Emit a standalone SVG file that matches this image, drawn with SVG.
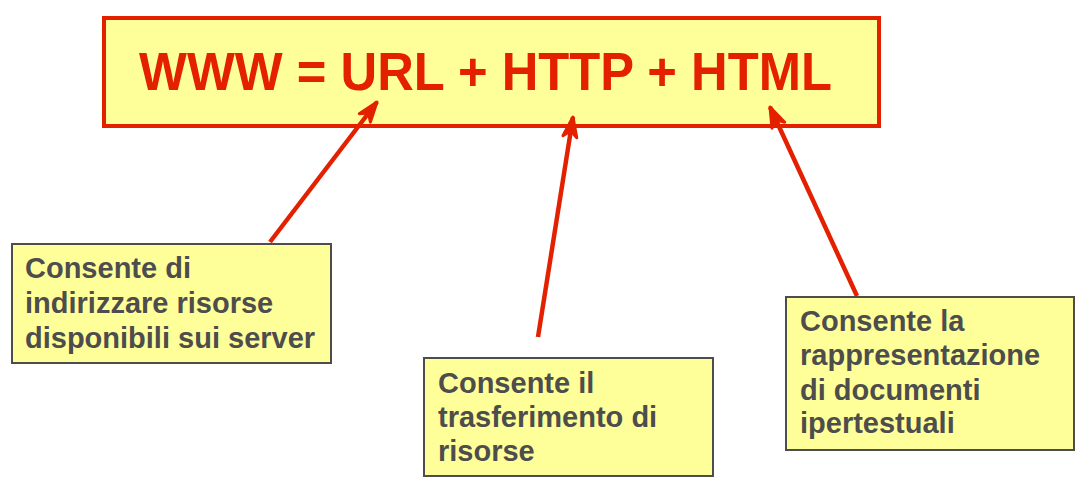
<svg xmlns="http://www.w3.org/2000/svg" width="1084" height="491" viewBox="0 0 1084 491">
<style>
.note rect{fill:#ffff99;stroke:#4d4d4d;stroke-width:2}
.note text{font-family:"Liberation Sans",Arial,sans-serif;font-weight:bold;font-size:29px;fill:#4d4d4d}
.conn line{stroke:#e32000;stroke-width:4.5;stroke-linecap:butt}
</style>
<defs>
<marker id="ah" markerUnits="userSpaceOnUse" viewBox="0 0 24 18" refX="22" refY="9" markerWidth="24" markerHeight="18" orient="auto">
<path d="M2,2 L22,9 L2,16 L8,9 Z" fill="#e32000" stroke="#e32000" stroke-width="3" stroke-linejoin="round"/>
</marker>
</defs>
<rect width="1084" height="491" fill="#ffffff"/>
<g id="main">
<rect x="104" y="18" width="775" height="108" fill="#ffff99" stroke="#e32000" stroke-width="4"/>
<text x="139" y="90" font-family="'Liberation Sans',Arial,sans-serif" font-weight="bold" font-size="53" fill="#e32000" textLength="693" lengthAdjust="spacingAndGlyphs">WWW = URL + HTTP + HTML</text>
</g>
<g id="connectors" class="conn">
<line x1="270" y1="242" x2="377" y2="102" marker-end="url(#ah)"/>
<line x1="538" y1="337" x2="573" y2="117" marker-end="url(#ah)"/>
<line x1="857" y1="296" x2="770" y2="107" marker-end="url(#ah)"/>
</g>
<g id="note-url" class="note">
<rect x="12" y="244" width="319" height="119"/>
<text x="25" y="278">Consente di</text>
<text x="25" y="313">indirizzare risorse</text>
<text x="25" y="348">disponibili sui server</text>
</g>
<g id="note-http" class="note">
<rect x="424" y="358" width="289" height="118"/>
<text x="438" y="393">Consente il</text>
<text x="438" y="427">trasferimento di</text>
<text x="438" y="461">risorse</text>
</g>
<g id="note-html" class="note">
<rect x="786" y="297" width="288" height="153"/>
<text x="800" y="331">Consente la</text>
<text x="800" y="365">rappresentazione</text>
<text x="800" y="400">di documenti</text>
<text x="800" y="433">ipertestuali</text>
</g>
</svg>
